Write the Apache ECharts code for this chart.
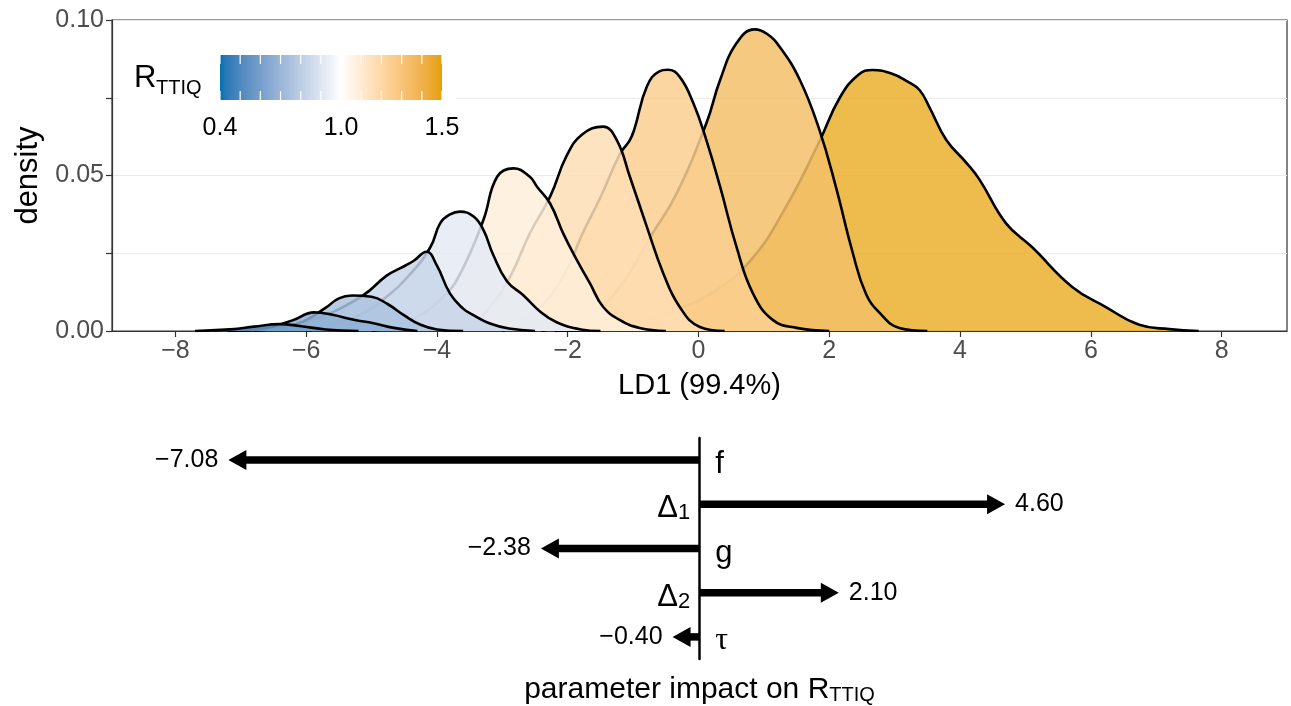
<!DOCTYPE html>
<html>
<head>
<meta charset="utf-8">
<script src="https://cdn.jsdelivr.net/npm/echarts@6/dist/echarts.min.js"></script>
<style>
  html, body { margin: 0; padding: 0; background: #fff; }
  #main { width: 1291px; height: 706px; }
</style>
</head>
<body>
<div id="main"></div>
<script>
// LD1 densities per R_TTIQ group as [LD1, density]
const rValues = [1.5, 1.4, 1.3, 1.2, 1.1, 0.9, 0.8, 0.7, 0.6, 0.5];

const dens15 = [[-2.2,0],[-1.3,0.0013],[-0.5,0.0058],[0.2,0.0122],[0.8,0.0228],[1.34,0.040],[1.85,0.061],[2.16,0.075],[2.45,0.0825],[2.66,0.0839],[2.95,0.0828],[3.2,0.0802],[3.38,0.0775],[3.53,0.072],[3.79,0.0614],[4.1,0.054],[4.3,0.0486],[4.7,0.0347],[5.1,0.027],[5.72,0.0141],[6.23,0.0077],[6.74,0.002],[7.2,0.0006],[7.65,0]];
const dens14 = [[-2.4,0],[-2.0,0.0022],[-1.6,0.0058],[-1.16,0.0154],[-0.7,0.0315],[-0.34,0.044],[0.12,0.0668],[0.33,0.0807],[0.58,0.0925],[0.86,0.097],[1.05,0.0955],[1.24,0.0914],[1.55,0.0807],[1.85,0.0646],[2.1,0.0464],[2.36,0.025],[2.56,0.012],[2.77,0.0058],[3.07,0.001],[3.5,0]];
const dens13 = [[-3.0,0],[-2.47,0.0068],[-2.07,0.0175],[-1.77,0.0315],[-1.5,0.043],[-1.2,0.057],[-1.05,0.0614],[-0.98,0.065],[-0.79,0.0786],[-0.6,0.0835],[-0.47,0.084],[-0.29,0.0818],[-0.08,0.0733],[0.12,0.0614],[0.33,0.0464],[0.58,0.0271],[0.83,0.0122],[1.14,0.0035],[1.5,0.001],[2.0,0]];
const dens12 = [[-3.9,0],[-3.49,0.002],[-3.19,0.0078],[-2.88,0.0175],[-2.58,0.0314],[-2.27,0.0432],[-2.02,0.0562],[-1.78,0.0632],[-1.46,0.0657],[-1.25,0.0614],[-1.05,0.0496],[-0.79,0.0335],[-0.54,0.0186],[-0.29,0.0078],[0.02,0.0013],[0.4,0]];
const dens11 = [[-5.0,0],[-4.7,0.0013],[-4.3,0.0046],[-3.9,0.011],[-3.64,0.0186],[-3.29,0.0357],[-3.08,0.0496],[-2.83,0.0523],[-2.58,0.0496],[-2.47,0.0464],[-2.27,0.041],[-2.07,0.0314],[-1.86,0.0228],[-1.66,0.0153],[-1.46,0.0078],[-1.2,0.0035],[-0.9,0.001],[-0.5,0]];
const dens09 = [[-6.0,0],[-5.6,0.002],[-5.2,0.005],[-4.8,0.0105],[-4.4,0.0185],[-4.1,0.027],[-3.95,0.0347],[-3.8,0.0375],[-3.65,0.0384],[-3.44,0.0368],[-3.29,0.0325],[-3.14,0.0245],[-2.93,0.016],[-2.68,0.0115],[-2.42,0.0062],[-2.17,0.0028],[-1.8,0.0005],[-1.5,0]];
const dens08 = [[-6.8,0],[-6.4,0.001],[-5.99,0.003],[-5.58,0.0062],[-5.12,0.0116],[-4.77,0.0178],[-4.56,0.0202],[-4.36,0.0225],[-4.16,0.0255],[-4.0,0.021],[-3.8,0.012],[-3.6,0.0072],[-3.45,0.0052],[-3.2,0.0025],[-2.9,0.0008],[-2.5,0]];
const dens07 = [[-7.0,0],[-6.4,0.0012],[-6.05,0.003],[-5.7,0.0075],[-5.5,0.0105],[-5.3,0.0114],[-5.0,0.011],[-4.75,0.0086],[-4.5,0.005],[-4.25,0.002],[-4.0,0.0005],[-3.6,0]];
const dens06 = [[-7.2,0],[-6.6,0.001],[-6.2,0.0035],[-5.88,0.006],[-5.6,0.0052],[-5.27,0.0036],[-4.97,0.0025],[-4.66,0.001],[-4.3,0]];
const dens05 = [[-7.7,0],[-7.1,0.0006],[-6.8,0.0014],[-6.4,0.0022],[-6.1,0.0016],[-5.7,0.0005],[-5.2,0]];
const densities = [dens15, dens14, dens13, dens12, dens11, dens09, dens08, dens07, dens06, dens05];

const xTicks = [-8, -6, -4, -2, 0, 2, 4, 6, 8];
const yLabelled = [0, 0.05, 0.1];

// colour bar
const barBreaks = [0.4, 0.5, 0.6, 0.7, 0.8, 0.9, 1.0, 1.1, 1.2, 1.3, 1.4, 1.5];
const barLabels = ['0.4', '1.0', '1.5'];

// lower panel: parameter impact on R_TTIQ
const paramNames = ['f', 'Δ', 'g', 'Δ', 'τ'];
const paramSubs = ['', '1', '', '2', ''];
const impacts = [-7.08, 4.60, -2.38, 2.10, -0.40];

const FONT = '"Liberation Sans", Arial, Helvetica, sans-serif';
const FILL_ALPHA = 0.85;

// diverging gradient blue - white - orange, interpolated in Lab like ggplot
function toLab(hex) {
  const c = [1, 3, 5].map(i => parseInt(hex.substr(i, 2), 16) / 255)
    .map(v => v <= 0.04045 ? v / 12.92 : Math.pow((v + 0.055) / 1.055, 2.4));
  const X = (0.4124 * c[0] + 0.3576 * c[1] + 0.1805 * c[2]) / 0.95047;
  const Y = 0.2126 * c[0] + 0.7152 * c[1] + 0.0722 * c[2];
  const Z = (0.0193 * c[0] + 0.1192 * c[1] + 0.9505 * c[2]) / 1.08883;
  const f = t => t > 0.008856 ? Math.cbrt(t) : 7.787 * t + 16 / 116;
  return [116 * f(Y) - 16, 500 * (f(X) - f(Y)), 200 * (f(Y) - f(Z))];
}
function labToRgb(lab) {
  const fy = (lab[0] + 16) / 116, fx = fy + lab[1] / 500, fz = fy - lab[2] / 200;
  const inv = t => t * t * t > 0.008856 ? t * t * t : (t - 16 / 116) / 7.787;
  const X = inv(fx) * 0.95047, Y = inv(fy), Z = inv(fz) * 1.08883;
  const rgb = [3.2406 * X - 1.5372 * Y - 0.4986 * Z, -0.9689 * X + 1.8758 * Y + 0.0415 * Z, 0.0557 * X - 0.2040 * Y + 1.0570 * Z];
  return rgb.map(v => {
    v = v <= 0.0031308 ? 12.92 * v : 1.055 * Math.pow(v, 1 / 2.4) - 0.055;
    return Math.min(1, Math.max(0, v)) * 255;
  });
}
const labLow = toLab('#0072B2'), labMid = toLab('#FFFFFF'), labHigh = toLab('#E69F00');
function rgbOf(v) {
  let a, b, t;
  if (v < 1) { a = labLow; b = labMid; t = (v - 0.4) / 0.6; }
  else { a = labMid; b = labHigh; t = (v - 1) / 0.5; }
  return labToRgb(a.map((x, i) => x + (b[i] - x) * t));
}
const css = c => 'rgb(' + c.map(Math.round).join(',') + ')';
const colorOf = v => css(rgbOf(v));
// fill that looks like 70% alpha over white but veils outlines below more strongly
const fillOf = v => css(rgbOf(v).map(c => (0.7 * c + 0.3 * 255 - (1 - FILL_ALPHA) * 255) / FILL_ALPHA));

const chart = echarts.init(document.getElementById('main'));

// each density gets its own z so later (left) fills veil earlier outlines
const densitySeries = densities.map((d, i) => ({
  type: 'line',
  xAxisIndex: 0,
  yAxisIndex: 0,
  z: 3 + i,
  data: d,
  smooth: 0.45,
  symbol: 'none',
  silent: true,
  lineStyle: { color: '#000', width: 2.6 },
  areaStyle: { color: fillOf(rValues[i]), opacity: FILL_ALPHA }
}));

const fmtVal = v => (v < 0 ? '\u2212' : '') + Math.abs(v).toFixed(2);

const arrowSeries = {
  type: 'custom',
  xAxisIndex: 1,
  yAxisIndex: 1,
  silent: true,
  data: impacts.map((v, i) => [v, i]),
  renderItem: function (params, api) {
    const v = api.value(0), idx = api.value(1);
    const p0 = api.coord([0, idx]);
    const p1 = api.coord([v, idx]);
    const dir = v < 0 ? -1 : 1;
    const head = 18, hw = 10;
    const base = p1[0] - dir * head;
    const name = paramNames[idx], sub = paramSubs[idx];
    const isTau = name === 'τ';
    const nameText = (isTau ? '{t|' + name + '}' : '{m|' + name + '}') + (sub ? '{s|' + sub + '}' : '');
    return {
      type: 'group',
      children: [
        { type: 'line', shape: { x1: p0[0], y1: p0[1], x2: base + dir, y2: p1[1] },
          style: { stroke: '#000', lineWidth: 7.5 } },
        { type: 'polygon', shape: { points: [[p1[0], p1[1]], [base, p1[1] - hw], [base, p1[1] + hw]] },
          style: { fill: '#000' } },
        { type: 'text', style: {
            text: fmtVal(v), x: p1[0] + dir * 10, y: p1[1],
            align: v < 0 ? 'right' : 'left', verticalAlign: 'middle',
            font: '25px ' + FONT, fill: '#000' } },
        { type: 'text', style: {
            text: nameText, x: p0[0] - dir * (v < 0 ? 16 : 9), y: p1[1] + 2,
            align: v < 0 ? 'left' : 'right', verticalAlign: 'middle',
            rich: {
              m: { fontSize: 31, fontFamily: FONT, lineHeight: 36, verticalAlign: 'bottom', fill: '#000' },
              t: { fontSize: 32, fontFamily: '"Liberation Serif", serif', lineHeight: 36, verticalAlign: 'bottom', fill: '#000' },
              s: { fontSize: 22, fontFamily: FONT, lineHeight: 22, verticalAlign: 'bottom', fill: '#000' }
            } } }
      ]
    };
  }
};

// colour bar legend
const barX = 220, barY = 55, barW = 222, barH = 45;
const barPos = v => barX + (v - barBreaks[0]) / (barBreaks[barBreaks.length - 1] - barBreaks[0]) * barW;
const stops = [];
for (let k = 0; k <= 44; k++) {
  const v = 0.4 + 1.1 * k / 44;
  stops.push({ offset: k / 44, color: colorOf(v) });
}
const legendEls = [
  { type: 'rect', shape: { x: 118, y: 32, width: 338, height: 112 }, style: { fill: '#fff' }, z: 1 },
  { type: 'rect', shape: { x: barX, y: barY, width: barW, height: barH },
    style: { fill: new echarts.graphic.LinearGradient(0, 0, 1, 0, stops) }, z: 2 },
  { type: 'text', style: { text: 'R', x: 134, y: 94, verticalAlign: 'bottom', font: '31px ' + FONT, fill: '#000' }, z: 2 },
  { type: 'text', style: { text: 'TTIQ', x: 156, y: 98, verticalAlign: 'bottom', font: '20px ' + FONT, fill: '#000' }, z: 2 }
];
barBreaks.forEach(b => {
  const x = barPos(b);
  legendEls.push({ type: 'line', shape: { x1: x, y1: barY, x2: x, y2: barY + 9 }, style: { stroke: '#fff', lineWidth: 1.2 }, z: 2 });
  legendEls.push({ type: 'line', shape: { x1: x, y1: barY + barH - 9, x2: x, y2: barY + barH }, style: { stroke: '#fff', lineWidth: 1.2 }, z: 2 });
});
barLabels.forEach(l => {
  legendEls.push({ type: 'text', style: { text: l, x: barPos(parseFloat(l)), y: 128, align: 'center', verticalAlign: 'middle', font: '25px ' + FONT, fill: '#000' }, z: 2 });
});

const option = {
  animation: false,
  backgroundColor: '#fff',
  grid: [
    { left: 112, right: 4, top: 20, height: 311, show: true, borderColor: '#333', borderWidth: 1.2 },
    { left: 112, right: 4, top: 438, height: 224 }
  ],
  xAxis: [
    {
      type: 'value', gridIndex: 0, min: -8.97, max: 9.0,
      axisLine: { show: true, onZero: false, lineStyle: { color: '#333', width: 1.2 } },
      axisTick: { show: true, customValues: xTicks, length: 6, lineStyle: { color: '#333', width: 1.2 } },
      axisLabel: { customValues: xTicks, fontSize: 25, fontFamily: FONT, color: '#4d4d4d', margin: 8,
        formatter: v => (v < 0 ? '\u2212' : '') + Math.abs(v) },
      splitLine: { show: false },
      name: 'LD1 (99.4%)', nameLocation: 'middle', nameGap: 40,
      nameTextStyle: { fontSize: 29, fontFamily: FONT, color: '#000' }
    },
    {
      type: 'value', gridIndex: 1, min: -8.83, max: 8.84,
      axisLine: { show: false }, axisTick: { show: false }, axisLabel: { show: false }, splitLine: { show: false },
      name: '{m|parameter impact on R}{s|TTIQ}', nameLocation: 'middle', nameGap: 12,
      nameTextStyle: {
        rich: {
          m: { fontSize: 30, fontFamily: FONT, color: '#000', lineHeight: 34, verticalAlign: 'bottom' },
          s: { fontSize: 20, fontFamily: FONT, color: '#000', lineHeight: 24, verticalAlign: 'bottom' }
        }
      }
    }
  ],
  yAxis: [
    {
      type: 'value', gridIndex: 0, min: 0, max: 0.1, interval: 0.025,
      axisLine: { show: true, onZero: false, lineStyle: { color: '#333', width: 1.2 } },
      axisTick: { show: true, length: 6, lineStyle: { color: '#333', width: 1.2 } },
      axisLabel: { fontSize: 25, fontFamily: FONT, color: '#4d4d4d', margin: 8,
        formatter: v => yLabelled.some(t => Math.abs(t - v) < 1e-9) ? v.toFixed(2) : '' },
      splitLine: { show: true, lineStyle: { color: '#ebebeb', width: 1.2 } },
      name: 'density', nameLocation: 'middle', nameGap: 62, nameRotate: 90,
      nameTextStyle: { fontSize: 31, fontFamily: FONT, color: '#000' }
    },
    {
      type: 'category', gridIndex: 1, data: paramNames, inverse: true,
      axisLine: { show: true, onZero: true, lineStyle: { color: '#000', width: 2.5 } },
      axisTick: { show: false }, axisLabel: { show: false }, splitLine: { show: false }
    }
  ],
  graphic: { elements: legendEls },
  series: densitySeries.concat([arrowSeries])
};

chart.setOption(option);
</script>
</body>
</html>
